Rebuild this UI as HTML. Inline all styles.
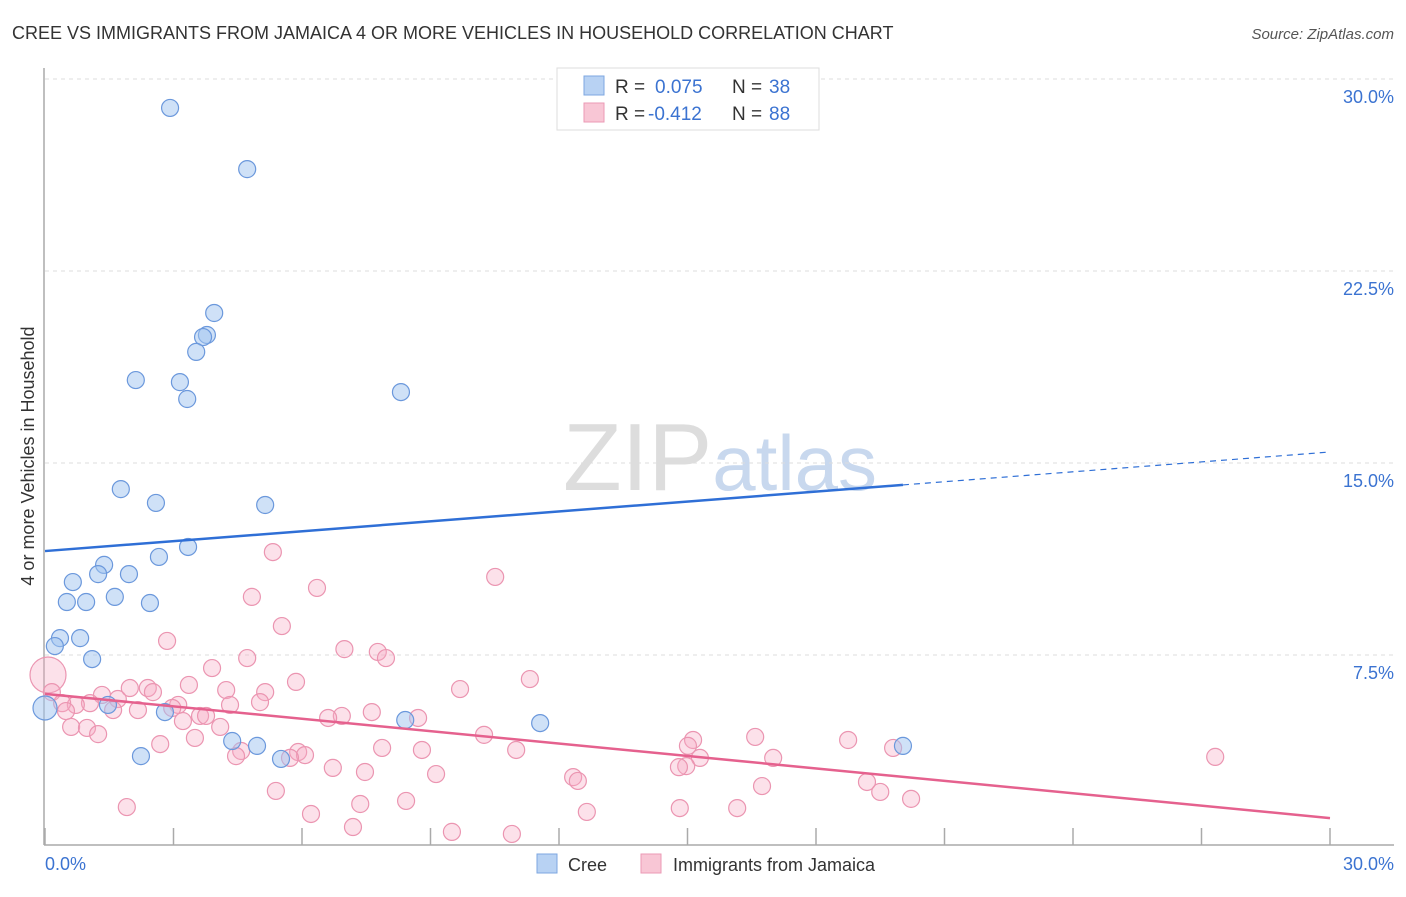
<!DOCTYPE html>
<html><head><meta charset="utf-8"><style>
body{margin:0;background:#fff;font-family:"Liberation Sans",sans-serif;}
svg text{font-family:"Liberation Sans",sans-serif;}
</style></head><body>
<svg id="chart" width="1406" height="892" viewBox="0 0 1406 892" xmlns="http://www.w3.org/2000/svg">
<text x="12" y="39" font-size="18" fill="#333">CREE VS IMMIGRANTS FROM JAMAICA 4 OR MORE VEHICLES IN HOUSEHOLD CORRELATION CHART</text>
<text x="1394" y="39" font-size="15" fill="#555" text-anchor="end" font-style="italic">Source: ZipAtlas.com</text>
<text x="720" y="490" font-size="96" text-anchor="middle" fill="#ddd" font-family="Liberation Serif,serif">ZIP<tspan fill="#c8d8ee" font-family="Liberation Sans,sans-serif" font-size="78">atlas</tspan></text>
<g id="grid"></g><g id="axes"></g><g id="pts"></g><g id="lines"></g>
<text transform="translate(34,456) rotate(-90)" font-size="18" fill="#333" text-anchor="middle">4 or more Vehicles in Household</text>
<text x="45" y="870" font-size="18" fill="#3b73d1">0.0%</text>
<text x="1394" y="870" font-size="18" fill="#3b73d1" text-anchor="end">30.0%</text>
<g>
<rect x="557" y="68" width="262" height="62" fill="#fff" stroke="#ddd"/>
<rect x="584" y="76" width="20" height="19" fill="#b8d2f3" stroke="#7ea7e0"/>
<rect x="584" y="103" width="20" height="19" fill="#f8c6d5" stroke="#eb9ab5"/>
<text x="615" y="93" font-size="19" fill="#333">R = </text><text x="655" y="93" font-size="19" fill="#3b73d1">0.075</text>
<text x="732" y="93" font-size="19" fill="#333">N = </text><text x="769" y="93" font-size="19" fill="#3b73d1">38</text>
<text x="615" y="120" font-size="19" fill="#333">R = </text><text x="648" y="120" font-size="19" fill="#3b73d1">-0.412</text>
<text x="732" y="120" font-size="19" fill="#333">N = </text><text x="769" y="120" font-size="19" fill="#3b73d1">88</text>
</g>
<g>
<rect x="537" y="854" width="20" height="19" fill="#b8d2f3" stroke="#7ea7e0"/>
<text x="568" y="871" font-size="18" fill="#333">Cree</text>
<rect x="641" y="854" width="20" height="19" fill="#f8c6d5" stroke="#eb9ab5"/>
<text x="673" y="871" font-size="18" fill="#333">Immigrants from Jamaica</text>
</g>
</svg>
<script>
const yTicks=[7.5,15,22.5,30];
const yTickLabels=["7.5%","15.0%","22.5%","30.0%"];
const creeX=[2.92,4.72,3.95,3.78,3.69,3.53,2.12,3.15,3.32,8.31,1.77,2.59,5.14,3.34,2.66,1.38,0.65,1.24,1.96,0.51,0.96,1.63,2.45,0.35,0.82,0.23,1.10,0,1.47,2.80,8.41,11.56,4.37,4.95,2.24,5.51,20.03];
const creeY=[28.87,26.48,20.86,20.0,19.92,19.34,18.24,18.16,17.5,17.77,13.98,13.44,13.36,11.72,11.33,11.02,10.35,10.66,10.66,9.57,9.57,9.77,9.53,8.16,8.16,7.85,7.34,5.43,5.55,5.27,4.96,4.84,4.14,3.95,3.55,3.44,3.95];
const jamX=[0.07,0.16,5.32,10.51,6.35,4.83,5.53,2.85,6.99,7.77,7.96,4.72,3.90,11.32,5.86,9.69,3.36,2.40,2.52,4.23,5.14,5.02,1.33,1.70,1.98,3.11,4.32,2.97,2.17,1.59,1.05,0.72,0.40,0.49,3.62,3.76,3.22,4.09,6.93,6.61,7.63,8.71,0.61,0.98,1.24,3.50,2.69,10.25,7.87,8.80,11.0,15.13,15.01,16.58,18.75,19.8,27.32,4.58,4.46,5.91,6.07,5.72,15.29,14.97,14.80,17.0,6.72,7.47,9.13,12.33,12.44,19.19,19.5,16.74,20.22,5.39,8.43,7.36,14.82,16.16,1.91,12.65,6.21,7.19,9.50,10.90];
const jamY=[6.72,6.05,11.52,10.55,10.12,9.77,8.63,8.05,7.73,7.62,7.38,7.38,6.99,6.56,6.45,6.17,6.33,6.21,6.05,6.13,6.05,5.66,5.94,5.78,6.21,5.55,5.55,5.43,5.35,5.35,5.62,5.55,5.62,5.31,5.12,5.12,4.92,4.69,5.12,5.04,5.27,5.04,4.69,4.65,4.41,4.26,4.02,4.38,3.87,3.79,3.79,4.18,3.95,4.30,4.18,3.87,3.52,3.75,3.55,3.71,3.59,3.48,3.48,3.16,3.12,3.48,3.09,2.93,2.85,2.73,2.58,2.54,2.15,2.38,1.88,2.19,1.80,1.68,1.52,1.52,1.56,1.37,1.29,0.78,0.59,0.51];
const jamSize=[18];
const creeSize=[12];
const creeTrend=[11.56,0.129]; // intercept, slope
const creeSolidEnd=[20.03];
const jamTrend=[5.98,-0.1617];
const NS='http://www.w3.org/2000/svg';
const X=v=>45+v*(1285/30), Y=v=>847-v*(192/7.5);
function mk(tag,attrs,parent){const e=document.createElementNS(NS,tag);for(const k in attrs)e.setAttribute(k,attrs[k]);document.getElementById(parent).appendChild(e);return e;}
yTicks.forEach((t,i)=>{
 const l=mk('line',{x1:45,x2:1394,y1:Y(t),y2:Y(t),stroke:'#ddd','stroke-dasharray':'4,4'},'grid');
 
 
 const tx=mk('text',{x:1394,y:Y(t)+24,'font-size':18,fill:'#3b73d1','text-anchor':'end'},'grid');
 tx.textContent=yTickLabels[i];
 
 
});
const ax=mk('line',{x1:44,x2:44,y1:68,y2:845,stroke:'#aaa','stroke-width':1.5},'axes');


const bx=mk('line',{x1:44,x2:1394,y1:845,y2:845,stroke:'#aaa','stroke-width':1.5},'axes');


for(let i=0;i<=10;i++){const v=i*3;
 const t=mk('line',{x1:X(v),x2:X(v),y1:828,y2:845,stroke:'#aaa','stroke-width':1.5},'axes');
 
 }
jamX.forEach((x,i)=>{
 const c=mk('circle',{cx:X(x),cy:Y(jamY[i]),r:i===0?jamSize[0]:8.5,fill:'rgba(246,170,196,0.35)',stroke:'#eb95b1','stroke-width':1.2},'pts');
 
 
});
creeX.forEach((x,i)=>{
 const c=mk('circle',{cx:X(x),cy:Y(creeY[i]),r:x===0?creeSize[0]:8.5,fill:'rgba(160,196,240,0.5)',stroke:'#6b98dc','stroke-width':1.2},'pts');
 
 
});
const cy=v=>creeTrend[0]+creeTrend[1]*v;
const l1=mk('line',{x1:X(0),y1:Y(cy(0)),x2:X(creeSolidEnd[0]),y2:Y(cy(creeSolidEnd[0])),stroke:'#2f6fd6','stroke-width':2.5},'lines');


const l2=mk('line',{x1:X(creeSolidEnd[0]),y1:Y(cy(creeSolidEnd[0])),x2:X(30),y2:Y(cy(30)),stroke:'#2f6fd6','stroke-width':1.2,'stroke-dasharray':'6,5'},'lines');


const jy=v=>jamTrend[0]+jamTrend[1]*v;
const l3=mk('line',{x1:X(0),y1:Y(jy(0)),x2:X(30),y2:Y(jy(30)),stroke:'#e5618e','stroke-width':2.5},'lines');


</script>
</body></html>
